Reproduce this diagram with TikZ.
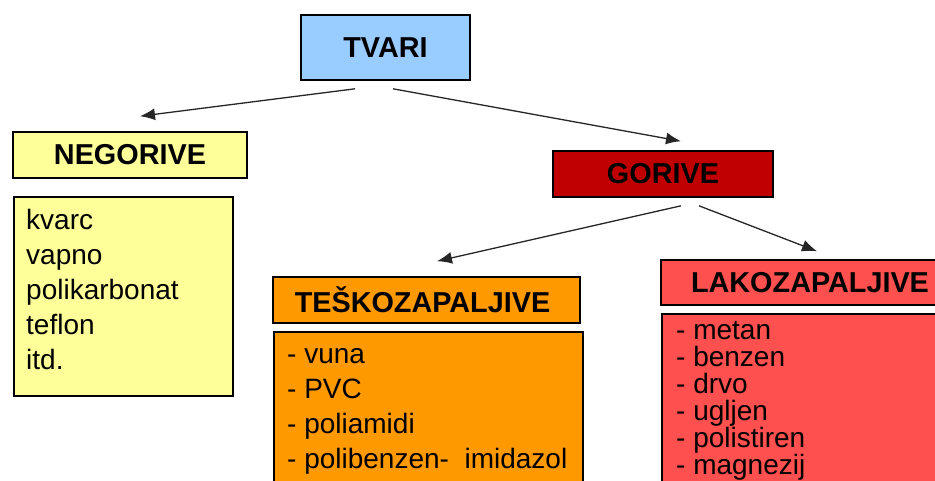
\documentclass[tikz,border=0pt]{standalone}
\usepackage{fontspec}
\setmainfont{Liberation Sans}
\usetikzlibrary{arrows.meta}

\definecolor{tvariplava}{HTML}{99CCFF}
\definecolor{negzuta}{HTML}{FFFF99}
\definecolor{gorcrvena}{HTML}{C00000}
\definecolor{teznarancasta}{HTML}{FF9900}
\definecolor{lakcrvena}{HTML}{FF5050}

\tikzset{
  naslov/.style={draw=black, line width=1.6pt, inner sep=0pt,
    font=\fontsize{28.8}{34}\selectfont\bfseries},
  okvir/.style={draw=black, line width=1.6pt, inner sep=0pt, anchor=north west},
  popis/.style={inner sep=0pt, anchor=north west, align=left,
    font=\fontsize{28}{35}\selectfont},
  strelica/.style={->, line width=1.3pt, draw=black!85}
}

\begin{document}
\begin{tikzpicture}[>={Latex[length=15pt,width=12pt]}]
		\useasboundingbox (0pt,0pt) rectangle (935pt,-480pt);
		% Tvari
		\node [naslov, fill=tvariplava, minimum width=169pt, minimum height=65pt]
			(tvari) at (385.5pt,-47.5pt) {TVARI};
		% Negorive
		\node [naslov, fill=negzuta, minimum width=234pt, minimum height=46pt]
			(negorive) at (130pt,-155pt) {NEGORIVE};
		\node [okvir, fill=negzuta, minimum width=219pt, minimum height=199pt]
			(negokvir) at (13pt,-196pt) {};
		\node [popis] (negpopis) at ([shift={(13pt,-13pt)}]negokvir.north west)
			{kvarc\\vapno\\polikarbonat\\teflon\\itd.};
		% Gorive
		\node [naslov, fill=gorcrvena, minimum width=220pt, minimum height=46pt]
			(gorive) at (663pt,-174pt) {GORIVE};
		% Teskozapaljive
		\node [naslov, fill=teznarancasta, minimum width=307pt, minimum height=46pt]
			(tesko) at (426.5pt,-300pt) {\hspace*{-8pt}TEŠKOZAPALJIVE};
		\node [okvir, fill=teznarancasta, minimum width=309pt, minimum height=180pt]
			(teskookvir) at (273pt,-331pt) {};
		\node [popis] (teskopopis) at ([shift={(14pt,-17pt)}]teskookvir.north west)
			{- vuna\\- PVC\\- poliamidi\\- polibenzen-\ \ imidazol};
		% Lakozapaljive
		\node [naslov, fill=lakcrvena, minimum width=298pt, minimum height=45pt]
			(lako) at (810pt,-282.5pt) {LAKOZAPALJIVE};
		\node [okvir, fill=lakcrvena, minimum width=298pt, minimum height=200pt]
			(lakookvir) at (661pt,-313pt) {};
		\node [popis, font=\fontsize{28}{27}\selectfont] (lakopopis)
			at ([shift={(15pt,-8pt)}]lakookvir.north west)
			{- metan\\- benzen\\- drvo\\- ugljen\\- polistiren\\- magnezij};
		% Strelice
		\draw [strelica] ([shift={(-30.5pt,-8pt)}]tvari.south) -- ([shift={(10pt,15pt)}]negorive.north);
		\draw [strelica] ([shift={(7.5pt,-8pt)}]tvari.south) -- ([shift={(18pt,9pt)}]gorive.north);
		\draw [strelica] ([shift={(18pt,-8pt)}]gorive.south) -- ([shift={(10.5pt,15pt)}]tesko.north);
		\draw [strelica] ([shift={(36pt,-8pt)}]gorive.south) -- ([shift={(7pt,8pt)}]lako.north);
\end{tikzpicture}
\end{document}
